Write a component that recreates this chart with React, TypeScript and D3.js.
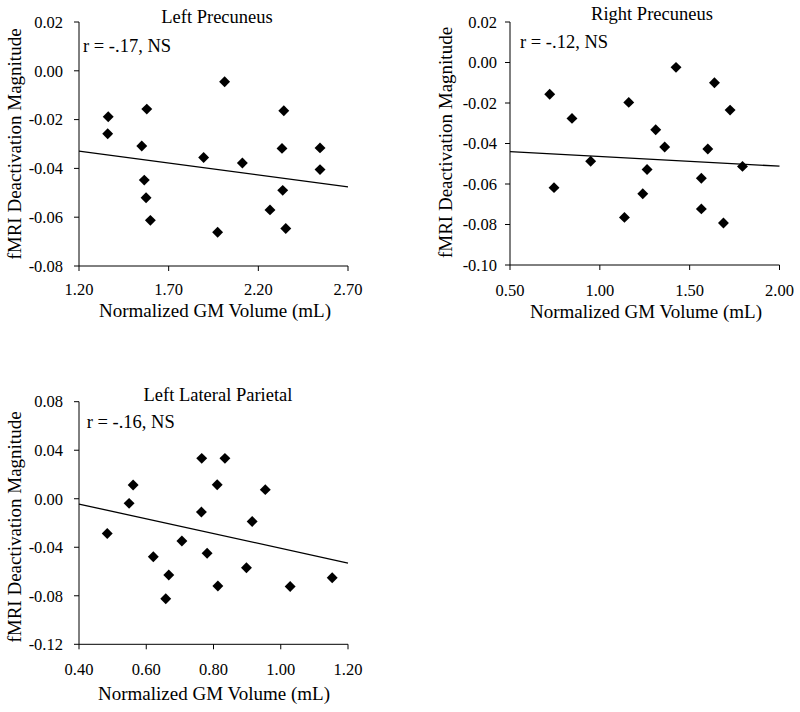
import React from "react";
import * as d3 from "d3";

// Left Precuneus
const lpX = [1.363, 1.36, 1.578, 1.55, 1.564, 1.574, 1.598, 1.895, 2.012, 1.973, 2.111, 2.265, 2.342, 2.332, 2.336, 2.353, 2.544, 2.544];
const lpY = [-0.0188, -0.0258, -0.0157, -0.0308, -0.0448, -0.052, -0.0613, -0.0355, -0.0045, -0.0662, -0.0378, -0.057, -0.0164, -0.0318, -0.049, -0.0646, -0.0316, -0.0405];
const lpFit = [-0.0329, -0.0476]; // at x domain ends
const lpXTicks = [1.2, 1.7, 2.2, 2.7];
const lpYTicks = [0.02, 0.0, -0.02, -0.04, -0.06, -0.08];

// Right Precuneus
const rpX = [0.721, 0.745, 0.845, 0.949, 1.137, 1.161, 1.239, 1.263, 1.311, 1.361, 1.424, 1.565, 1.565, 1.601, 1.638, 1.688, 1.725, 1.794];
const rpY = [-0.0157, -0.0618, -0.0276, -0.0488, -0.0765, -0.0197, -0.0648, -0.0528, -0.0332, -0.0417, -0.0024, -0.0572, -0.0723, -0.0427, -0.01, -0.0793, -0.0235, -0.0513];
const rpFit = [-0.044, -0.0512];
const rpXTicks = [0.5, 1.0, 1.5, 2.0];
const rpYTicks = [0.02, 0.0, -0.02, -0.04, -0.06, -0.08, -0.1];

// Left Lateral Parietal
const llX = [0.484, 0.549, 0.561, 0.621, 0.667, 0.658, 0.706, 0.764, 0.765, 0.781, 0.811, 0.813, 0.834, 0.898, 0.915, 0.954, 1.028, 1.153];
const llY = [-0.0286, -0.0038, 0.0113, -0.0478, -0.0629, -0.0824, -0.0349, -0.011, 0.0333, -0.045, 0.0116, -0.072, 0.0333, -0.0569, -0.0187, 0.0075, -0.0723, -0.0651];
const llFit = [-0.0044, -0.053];
const llXTicks = [0.4, 0.6, 0.8, 1.0, 1.2];
const llYTicks = [0.08, 0.04, 0.0, -0.04, -0.08, -0.12];

const FONT = "'Liberation Serif', 'Times New Roman', serif";

type PanelProps = {
  title: string;
  annot: string;
  xs: number[];
  ys: number[];
  fit: number[];
  xTicks: number[];
  yTicks: number[];
  left: number;
  right: number;
  top: number;
  bottom: number;
  titleX: number;
  titleY: number;
  annotX: number;
  annotY: number;
  tickLabelRight: number;
  xTickBaseline: number;
  xTitleX: number;
  xTitleY: number;
  yTitleX: number;
  yTitleY: number;
};

function Panel(p: PanelProps) {
  const xDom = [p.xTicks[0], p.xTicks[p.xTicks.length - 1]];
  const yDom = [p.yTicks[p.yTicks.length - 1], p.yTicks[0]];
  const x = d3.scaleLinear().domain(xDom).range([p.left, p.right]);
  const y = d3.scaleLinear().domain(yDom).range([p.bottom, p.top]);
  const diamond = d3.symbol().type(d3.symbolDiamond2).size(76)();
  const line = d3
    .line<[number, number]>()
    .x((d) => x(d[0]))
    .y((d) => y(d[1]))([
    [xDom[0], p.fit[0]],
    [xDom[1], p.fit[1]],
  ]);
  return (
    <g fontFamily={FONT} fill="#000">
      <line x1={p.left} x2={p.left} y1={p.top} y2={p.bottom} stroke="#000" strokeWidth={1} />
      <line x1={p.left} x2={p.right} y1={p.bottom} y2={p.bottom} stroke="#000" strokeWidth={1} />
      {p.yTicks.map((t) => (
        <g key={"y" + t}>
          <line x1={p.left - 5} x2={p.left} y1={y(t)} y2={y(t)} stroke="#000" />
          <text x={p.tickLabelRight} y={y(t)} dy="0.35em" textAnchor="end" fontSize={16.5}>
            {d3.format(".2f")(t).replace("−", "-")}
          </text>
        </g>
      ))}
      {p.xTicks.map((t) => (
        <g key={"x" + t}>
          <line x1={x(t)} x2={x(t)} y1={p.bottom} y2={p.bottom + 5} stroke="#000" />
          <text x={x(t)} y={p.xTickBaseline} textAnchor="middle" fontSize={16.5}>
            {d3.format(".2f")(t)}
          </text>
        </g>
      ))}
      <path d={line || ""} stroke="#000" strokeWidth={1.3} fill="none" />
      {p.xs.map((v, i) => (
        <path key={i} d={diamond || ""} transform={`translate(${x(v)},${y(p.ys[i])})`} fill="#000" />
      ))}
      <text x={p.titleX} y={p.titleY} textAnchor="middle" fontSize={18.5}>
        {p.title}
      </text>
      <text x={p.annotX} y={p.annotY} fontSize={18.5}>
        {p.annot}
      </text>
      <text x={p.xTitleX} y={p.xTitleY} textAnchor="middle" fontSize={19}>
        Normalized GM Volume (mL)
      </text>
      <text
        transform={`translate(${p.yTitleX},${p.yTitleY}) rotate(-90)`}
        textAnchor="middle"
        fontSize={19}
      >
        fMRI Deactivation Magnitude
      </text>
    </g>
  );
}

export default function App() {
  return (
    <svg
      width={800}
      height={712}
      style={{ position: "absolute", left: 0, top: 0, background: "#fff" }}
    >
      <rect width={800} height={712} fill="#fff" />
      <Panel
        title="Left Precuneus"
        annot="r = -.17, NS"
        xs={lpX}
        ys={lpY}
        fit={lpFit}
        xTicks={lpXTicks}
        yTicks={lpYTicks}
        left={79}
        right={348}
        top={22}
        bottom={266}
        titleX={217}
        titleY={23}
        annotX={83}
        annotY={52}
        tickLabelRight={63}
        xTickBaseline={295}
        xTitleX={215}
        xTitleY={317}
        yTitleX={21}
        yTitleY={144}
      />
      <Panel
        title="Right Precuneus"
        annot="r = -.12, NS"
        xs={rpX}
        ys={rpY}
        fit={rpFit}
        xTicks={rpXTicks}
        yTicks={rpYTicks}
        left={510}
        right={779.5}
        top={22}
        bottom={265}
        titleX={652}
        titleY={20}
        annotX={520}
        annotY={48}
        tickLabelRight={497}
        xTickBaseline={296}
        xTitleX={646}
        xTitleY={318}
        yTitleX={452}
        yTitleY={142.5}
      />
      <Panel
        title="Left Lateral Parietal"
        annot="r = -.16, NS"
        xs={llX}
        ys={llY}
        fit={llFit}
        xTicks={llXTicks}
        yTicks={llYTicks}
        left={79}
        right={348}
        top={401.7}
        bottom={644.3}
        titleX={218}
        titleY={400.5}
        annotX={86.7}
        annotY={428}
        tickLabelRight={63}
        xTickBaseline={675}
        xTitleX={214}
        xTitleY={700}
        yTitleX={21}
        yTitleY={527}
      />
    </svg>
  );
}
